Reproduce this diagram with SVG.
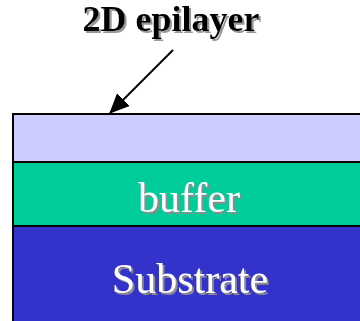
<svg xmlns="http://www.w3.org/2000/svg" width="360" height="321" viewBox="0 0 360 321">
  <defs>
    <style>
      .layer { stroke: #000; stroke-width: 2; }
      .label { font-family: "Liberation Serif", "Times New Roman", serif; text-anchor: middle; }
      .title { font-size: 36px; font-weight: bold; fill: #000; filter: url(#shadow-title); }
      .inner { font-size: 42px; fill: #fff; filter: url(#shadow-inner); }
    </style>
    <filter id="shadow-title" x="-10%" y="-20%" width="120%" height="150%">
      <feDropShadow dx="2" dy="2" stdDeviation="0.7" flood-color="#999" flood-opacity="1"/>
    </filter>
    <filter id="shadow-inner" x="-10%" y="-20%" width="120%" height="150%">
      <feDropShadow dx="2" dy="2" stdDeviation="0.4" flood-color="#8c8c8c" flood-opacity="1"/>
    </filter>
    <marker id="arrowhead" markerWidth="20" markerHeight="18" refX="19" refY="9" orient="auto" markerUnits="userSpaceOnUse">
      <path d="M0,0 L20,9 L0,18 Z" fill="#000"/>
    </marker>
  </defs>

  <rect width="360" height="321" fill="#fff"/>

  <!-- layer stack -->
  <g id="substrate">
    <rect class="layer" x="13" y="226" width="360" height="110" fill="#3333CC"/>
    <text class="label inner" x="190" y="293">Substrate</text>
  </g>
  <g id="buffer">
    <rect class="layer" x="13" y="162" width="360" height="64" fill="#00CC99"/>
    <text class="label inner" x="189" y="212">buffer</text>
  </g>
  <g id="epilayer">
    <rect class="layer" x="13" y="114" width="360" height="48" fill="#CCCCFF"/>
  </g>

  <!-- callout label -->
  <g id="epilayer-label">
    <text class="label title" x="171" y="31">2D epilayer</text>
  </g>

  <g id="connectors">
    <line x1="173" y1="50" x2="110" y2="113" stroke="#000" stroke-width="2" marker-end="url(#arrowhead)"/>
  </g>
</svg>
